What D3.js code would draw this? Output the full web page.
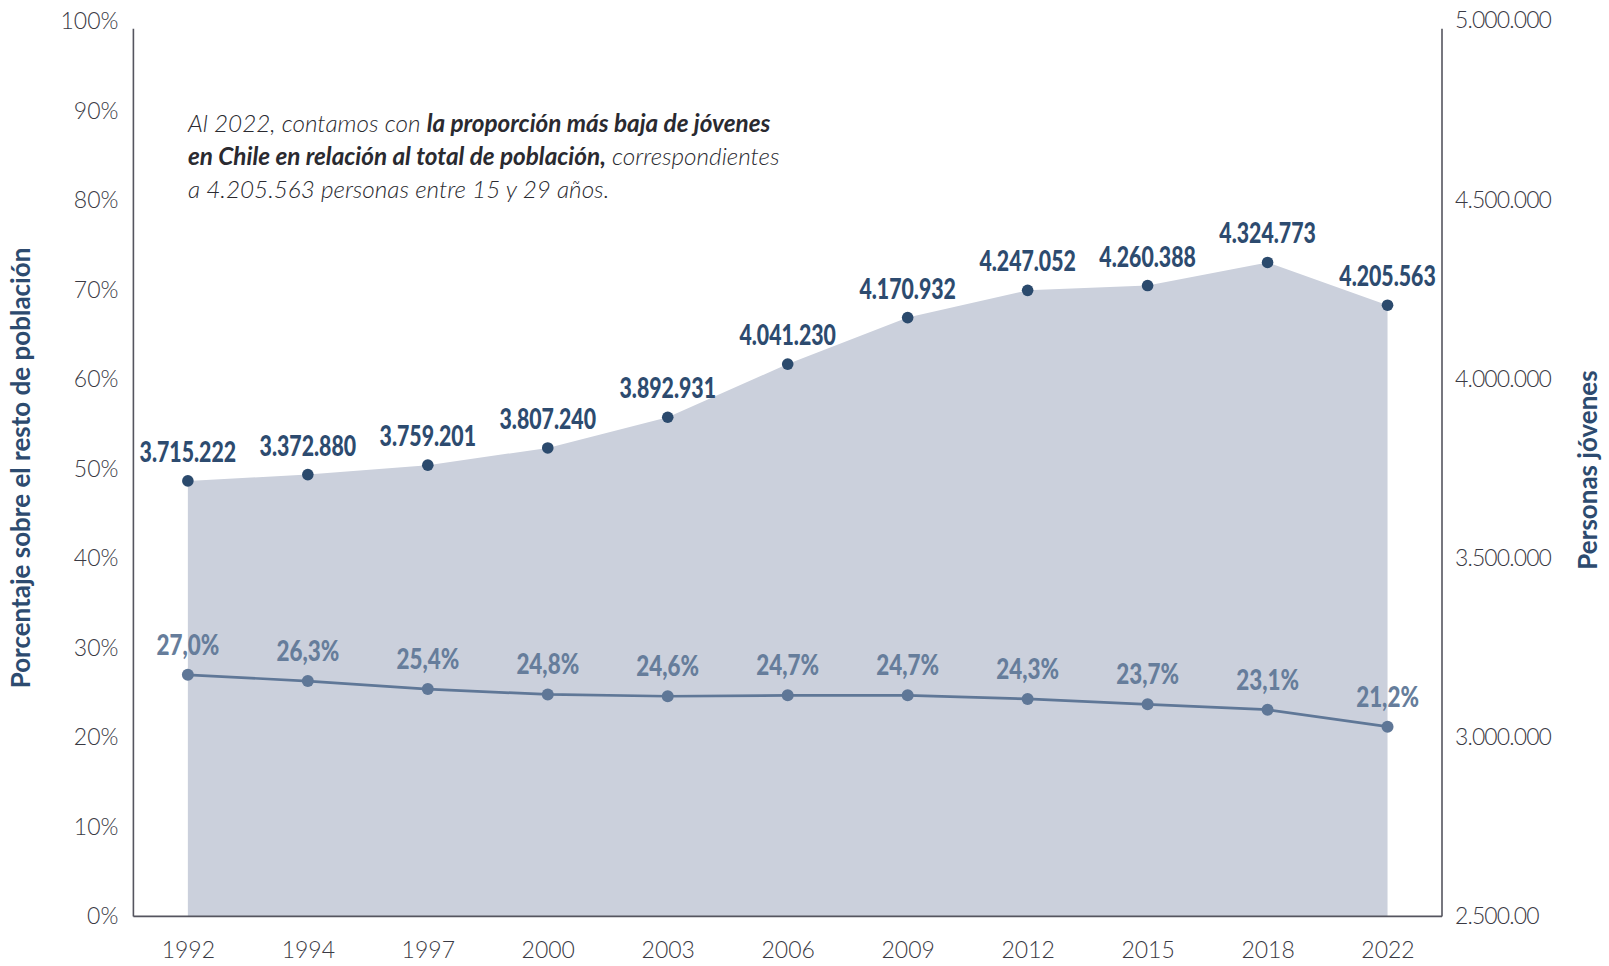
<!DOCTYPE html>
<html><head><meta charset="utf-8">
<script src="https://cdn.jsdelivr.net/npm/d3@7"></script>
<style>body{margin:0;background:#fff}svg{display:block}text{font-family:Lato,"Open Sans",sans-serif}</style>
</head><body><svg id="c" width="1609" height="966"></svg>
<script>
const years = ["1992","1994","1997","2000","2003","2006","2009","2012","2015","2018","2022"];
const personas = [3715222,3732880,3759201,3807240,3892931,4041230,4170932,4247052,4260388,4324773,4205563];
const personasLabels = ["3.715.222","3.372.880","3.759.201","3.807.240","3.892.931","4.041.230","4.170.932","4.247.052","4.260.388","4.324.773","4.205.563"];
const porcentaje = [27.0,26.3,25.4,24.8,24.6,24.7,24.7,24.3,23.7,23.1,21.2];
const porcentajeLabels = ["27,0%","26,3%","25,4%","24,8%","24,6%","24,7%","24,7%","24,3%","23,7%","23,1%","21,2%"];
const leftTicks = [0,10,20,30,40,50,60,70,80,90,100];
const rightTicks = [2500000,3000000,3500000,4000000,4500000,5000000];
const rightTickLabels = ["2.500.00","3.000.000","3.500.000","4.000.000","4.500.000","5.000.000"];

const L=133.4, R=1442, T=28.7, B=916.4;
const svg=d3.select("#c");
const x=d3.scalePoint().domain(years).range([L,R]).padding(0.454);
const yL=d3.scaleLinear().domain([0,100]).range([B,21.5]);
const yR=d3.scaleLinear().domain([2500000,5000000]).range([B,20.5]);

// area
svg.append("path").datum(personas)
  .attr("fill","#cbd0dc")
  .attr("d",d3.area().x((d,i)=>x(years[i])).y0(B).y1(d=>yR(d)));

// frame
const axc="#55555f";
svg.append("line").attr("x1",L).attr("x2",L).attr("y1",T).attr("y2",B).attr("stroke",axc).attr("stroke-width",1.6);
svg.append("line").attr("x1",R).attr("x2",R).attr("y1",T).attr("y2",B).attr("stroke",axc).attr("stroke-width",1.6);
svg.append("line").attr("x1",L).attr("x2",R).attr("y1",B).attr("y2",B).attr("stroke",axc).attr("stroke-width",1.6);

// axes
const tcol="#3a3a44";
const gl=svg.append("g").attr("transform",`translate(${L},0)`)
  .call(d3.axisLeft(yL).tickValues(leftTicks).tickSize(0).tickPadding(15).tickFormat(d=>d+"%"));
const gr=svg.append("g").attr("transform",`translate(${R},0)`)
  .call(d3.axisRight(yR).tickValues(rightTicks).tickSize(0).tickPadding(13).tickFormat((d,i)=>rightTickLabels[i]));
const gb=svg.append("g").attr("transform",`translate(0,${B})`)
  .call(d3.axisBottom(x).tickSize(0).tickPadding(25));
[gl,gr,gb].forEach(g=>{g.select(".domain").remove();
  g.selectAll("text").attr("font-family","Lato").attr("font-weight",300).attr("font-size",23).attr("fill",tcol);});
gr.selectAll("text").attr("letter-spacing",-0.9);

// percent line
const pc="#5f7797";
svg.append("path").datum(porcentaje).attr("fill","none").attr("stroke",pc).attr("stroke-width",2.7)
  .attr("d",d3.line().x((d,i)=>x(years[i])).y(d=>yL(d)));
svg.selectAll(".pd").data(porcentaje).join("circle").attr("cx",(d,i)=>x(years[i])).attr("cy",d=>yL(d)).attr("r",6).attr("fill",pc);
svg.selectAll(".pl").data(porcentaje).join("text")
  .attr("transform",(d,i)=>`translate(${x(years[i])},${yL(d)-20}) scale(0.8,1)`)
  .attr("text-anchor","middle").attr("font-weight",900).attr("font-size",28).attr("fill","#667d9b")
  .text((d,i)=>porcentajeLabels[i]);

// persons dots
const dc="#2b4a6d";
svg.selectAll(".dd").data(personas).join("circle").attr("cx",(d,i)=>x(years[i])).attr("cy",d=>yR(d)).attr("r",5.8).attr("fill",dc);
svg.selectAll(".dl").data(personas).join("text")
  .attr("transform",(d,i)=>`translate(${x(years[i])},${yR(d)-19}) scale(0.76,1)`)
  .attr("text-anchor","middle").attr("font-weight",900).attr("font-size",28).attr("fill","#2d4b6f")
  .text((d,i)=>personasLabels[i]);

// axis titles
svg.append("text").attr("transform","translate(30,468) rotate(-90)").attr("text-anchor","middle")
  .attr("font-weight",700).attr("font-size",26).attr("fill","#2d4b6f").text("Porcentaje sobre el resto de población");
svg.append("text").attr("transform","translate(1597,470) rotate(-90)").attr("text-anchor","middle")
  .attr("font-weight",700).attr("font-size",26).attr("fill","#2d4b6f").text("Personas jóvenes");

// annotation
const ann=[
  [["Al 2022, contamos con ",300],["la proporción más baja de jóvenes",700]],
  [["en Chile en relación al total de población,",700],[" correspondientes",300]],
  [["a 4.205.563 personas entre 15 y 29 años.",300]]
];
ann.forEach((line,li)=>{
  const t=svg.append("text").attr("x",188).attr("y",132+li*33).attr("font-size",24.3)
    .attr("font-style","italic").attr("fill","#2a2a30");
  line.forEach(([s,w])=>t.append("tspan").attr("font-weight",w).text(s));
});
</script></body></html>
